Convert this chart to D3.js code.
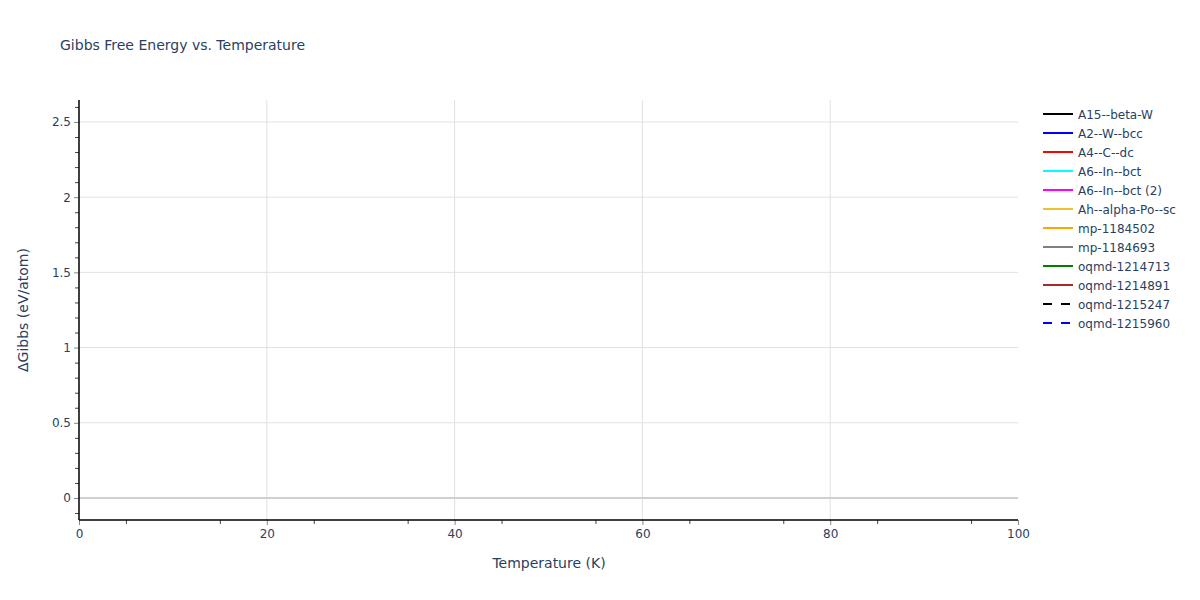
<!DOCTYPE html>
<html>
<head>
<meta charset="utf-8">
<script src="https://cdn.jsdelivr.net/npm/d3@7"></script>
<style>
  body { margin: 0; background: #fff; }
  text { font-family: "DejaVu Sans", verdana, arial, sans-serif; fill: #2a3f5f; }
</style>
</head>
<body>
<div id="chart"></div>
<script>
// series names, colours and dash style, in legend order
var seriesNames = ["A15--beta-W", "A2--W--bcc", "A4--C--dc", "A6--In--bct", "A6--In--bct (2)",
  "Ah--alpha-Po--sc", "mp-1184502", "mp-1184693", "oqmd-1214713", "oqmd-1214891",
  "oqmd-1215247", "oqmd-1215960"];
var seriesColors = ["black", "blue", "red", "cyan", "magenta", "#f0c030", "orange", "gray",
  "green", "brown", "black", "blue"];
var seriesDashed = [false, false, false, false, false, false, false, false, false, false, true, true];
// no points of any series fall inside the plotted window, so each is empty
var seriesTemps = [[], [], [], [], [], [], [], [], [], [], [], []];
var seriesGibbs = [[], [], [], [], [], [], [], [], [], [], [], []];

var xTicks = [0, 20, 40, 60, 80, 100];
var yTicks = [0, 0.5, 1, 1.5, 2, 2.5];

var W = 1200, H = 600;
var svg = d3.select("#chart").append("svg").attr("width", W).attr("height", H);

var x = d3.scaleLinear().domain([0, 100]).range([79, 1018]);
var y = d3.scaleLinear().domain([-0.1463, 2.646]).range([520, 100]);

// gridlines
svg.append("g").selectAll("line").data(xTicks.slice(1, -1)).enter().append("line")
  .attr("x1", function(d) { return x(d); }).attr("x2", function(d) { return x(d); })
  .attr("y1", 100).attr("y2", 520)
  .attr("stroke", "#e1e1e1").attr("stroke-width", 1);
svg.append("g").selectAll("line").data(yTicks.slice(1)).enter().append("line")
  .attr("x1", 79).attr("x2", 1018)
  .attr("y1", function(d) { return y(d); }).attr("y2", function(d) { return y(d); })
  .attr("stroke", "#e1e1e1").attr("stroke-width", 1);
// zero line
svg.append("line").attr("x1", 79).attr("x2", 1018)
  .attr("y1", y(0)).attr("y2", y(0))
  .attr("stroke", "#d0d0d0").attr("stroke-width", 2);

// series lines
var line = d3.line().x(function(d) { return x(d[0]); }).y(function(d) { return y(d[1]); });
seriesNames.forEach(function(name, i) {
  var pts = d3.zip(seriesTemps[i], seriesGibbs[i]);
  svg.append("path").datum(pts).attr("d", line)
    .attr("fill", "none").attr("stroke", seriesColors[i]).attr("stroke-width", 2)
    .attr("stroke-dasharray", seriesDashed[i] ? "9,9" : null);
});

// x axis
var xAxis = svg.append("g").attr("transform", "translate(0,520)")
  .call(d3.axisBottom(x).tickValues(xTicks).tickSize(5).tickPadding(4).tickFormat(d3.format("d")));
xAxis.select(".domain").remove();
xAxis.selectAll(".tick line").attr("stroke", "#888");
xAxis.selectAll("text").style("font-size", "12px").attr("fill", "#2a3f5f")
  .style("font-family", "'DejaVu Sans', verdana, arial, sans-serif");
svg.append("g").attr("transform", "translate(0,520)")
  .call(d3.axisBottom(x).tickValues(d3.range(5, 100, 10)).tickSize(4).tickFormat(""))
  .call(function(g) { g.select(".domain").remove(); g.selectAll("line").attr("stroke", "#444"); });
svg.append("line").attr("x1", 79).attr("x2", 1018).attr("y1", 520).attr("y2", 520)
  .attr("stroke", "black").attr("stroke-width", 1.5);

// y axis
var minorY = d3.range(-1, 27).map(function(i) { return i / 10; })
  .filter(function(d) { return Math.round(d * 10) % 5 !== 0; });
svg.append("g").attr("transform", "translate(79,0)")
  .call(d3.axisLeft(y).tickValues(minorY).tickSize(4).tickFormat(""))
  .call(function(g) { g.select(".domain").remove(); g.selectAll("line").attr("stroke", "#444"); });
var yAxis = svg.append("g").attr("transform", "translate(79,0)")
  .call(d3.axisLeft(y).tickValues(yTicks).tickSize(5).tickPadding(3)
    .tickFormat(function(d) { return d3.format("")(d); }));
yAxis.select(".domain").remove();
yAxis.selectAll(".tick line").attr("stroke", "#888");
yAxis.selectAll("text").style("font-size", "12px").attr("fill", "#2a3f5f")
  .style("font-family", "'DejaVu Sans', verdana, arial, sans-serif");
svg.append("line").attr("x1", 79).attr("x2", 79).attr("y1", 100).attr("y2", 520)
  .attr("stroke", "black").attr("stroke-width", 1.5);

// titles
svg.append("text").attr("x", 60).attr("y", 50).style("font-size", "14px")
  .text("Gibbs Free Energy vs. Temperature");
svg.append("text").attr("x", 549).attr("y", 568).attr("text-anchor", "middle")
  .style("font-size", "14px").text("Temperature (K)");
svg.append("text").attr("transform", "translate(28,310) rotate(-90)").attr("text-anchor", "middle")
  .style("font-size", "14px").text("\u0394Gibbs (eV/atom)");

// legend
var leg = svg.append("g").selectAll("g").data(seriesNames).enter().append("g")
  .attr("transform", function(d, i) { return "translate(1043," + (114 + i * 19) + ")"; });
leg.append("line").attr("x1", 0).attr("x2", 30).attr("y1", 0).attr("y2", 0)
  .attr("stroke", function(d, i) { return seriesColors[i]; }).attr("stroke-width", 2)
  .attr("stroke-dasharray", function(d, i) { return seriesDashed[i] ? "9,9" : null; });
leg.append("text").attr("x", 35).attr("y", 4.5).style("font-size", "12px")
  .text(function(d) { return d; });
</script>
</body>
</html>
